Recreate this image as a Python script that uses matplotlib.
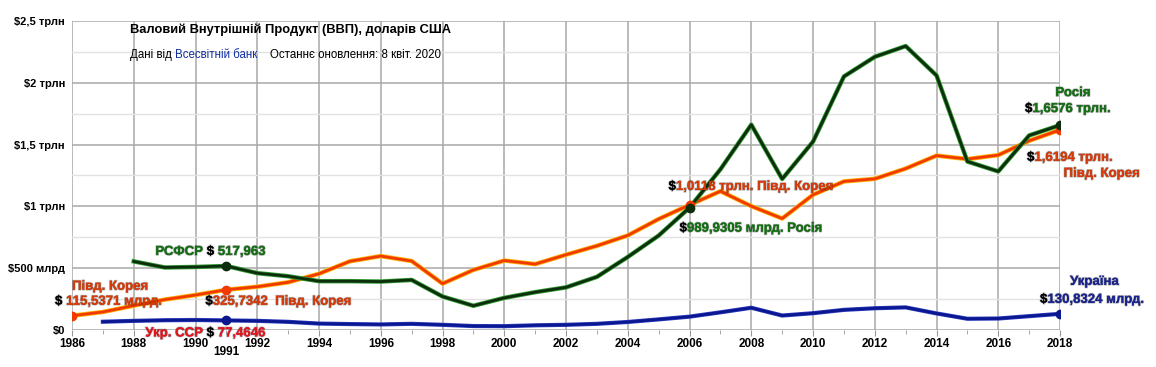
import matplotlib.pyplot as plt
import matplotlib.patheffects as pe
from matplotlib.ticker import MultipleLocator

plt.rcParams['font.family'] = ['Liberation Sans Narrow', 'Liberation Sans', 'DejaVu Sans']

# GDP, billions of US dollars
korea_years = list(range(1986, 2019))
korea = [115.5, 146, 197, 246, 283, 325.7, 350, 386, 455, 556, 598, 558, 375, 486,
         562, 533, 609, 681, 765, 898, 1011.8, 1123, 1002, 902, 1094, 1202, 1223,
         1306, 1411, 1383, 1415, 1531, 1619.4]
russia_years = list(range(1988, 2019))
russia = [555, 506, 510, 518.0, 460, 435, 395, 395, 392, 405, 271, 196, 260, 306,
          345, 430, 591, 764, 989.9, 1300, 1661, 1222, 1524, 2051, 2210, 2297, 2059,
          1363, 1283, 1574, 1657.6]
ukraine_years = list(range(1987, 2019))
ukraine = [67, 74, 79, 81, 77.5, 74, 66, 52, 48, 45, 50, 42, 32, 31, 38, 42, 50,
           65, 86, 108, 143, 180, 117, 136, 163, 176, 183, 134, 91, 93, 112, 130.8]

y_ticks = [0, 500, 1000, 1500, 2000, 2500]
y_labels = ['$0', '$500 млрд', '$1 трлн', '$1,5 трлн', '$2 трлн', '$2,5 трлн']
x_ticks = list(range(1986, 2019, 2))

KOREA = '#f03a00'
RUSSIA = '#0d2e0d'
UKR = '#0a1790'
KOREA_TXT = '#d83a08'
RUSSIA_TXT = '#137013'
UKR_TXT = '#1a2490'

fig = plt.figure(figsize=(11.56, 3.67), dpi=100)
ax = fig.add_axes([0.0623, 0.1008, 0.8547, 0.842])

ax.plot(korea_years, korea, color=KOREA, lw=2.0, zorder=4,
        path_effects=[pe.Stroke(linewidth=3.2, foreground='#ffb000'), pe.Normal()])
ax.plot(russia_years, russia, color=RUSSIA, lw=2.0, zorder=4,
        path_effects=[pe.Stroke(linewidth=3.2, foreground='#2f9a2f'), pe.Normal()])
ax.plot(ukraine_years, ukraine, color=UKR, lw=2.0, zorder=4,
        path_effects=[pe.Stroke(linewidth=3.0, foreground='#3040c0'), pe.Normal()])

# highlighted points
for yr in (1986, 1991, 2006, 2018):
    ax.plot(yr, korea[korea_years.index(yr)], 'o', color=KOREA, ms=6, zorder=5)
for yr in (1991, 2006, 2018):
    ax.plot(yr, russia[russia_years.index(yr)], 'o', color=RUSSIA, ms=6, zorder=5)
for yr in (1991, 2018):
    ax.plot(yr, ukraine[ukraine_years.index(yr)], 'o', color=UKR, ms=6, zorder=5)

ax.set_xlim(1986, 2018)
ax.set_ylim(0, 2500)
ax.set_xticks(x_ticks)
ax.set_xticklabels([str(x) for x in x_ticks])
ax.xaxis.set_minor_locator(MultipleLocator(1))
ax.set_yticks(y_ticks)
ax.set_yticklabels(y_labels)
ax.yaxis.set_minor_locator(MultipleLocator(250))
ax.tick_params(axis='x', which='major', length=4, color='#999999', labelsize=8.5, pad=2)
ax.tick_params(axis='x', which='minor', length=3, color='#999999')
ax.tick_params(axis='y', which='both', length=0, labelsize=8, pad=5)
for lab in ax.get_xticklabels() + ax.get_yticklabels():
    lab.set_fontweight('bold')
ax.grid(True, which='major', color='#a8a8a8', lw=1.1)
ax.grid(True, which='minor', axis='y', color='#e2e2e2', lw=1.0)
for s in ax.spines.values():
    s.set_visible(False)
ax.text(1991, -0.072, '1991', transform=ax.get_xaxis_transform(), ha='center', va='center',
        fontsize=8.5, fontweight='bold')

fig.text(0.1125, 0.918, 'Валовий Внутрішній Продукт (ВВП), доларів США',
         fontsize=9.3, fontweight='bold', va='center')
t = fig.text(0.1125, 0.851, 'Дані від ', fontsize=8.3, va='center')
t = ax.annotate('Всесвітній банк', xy=(1, 0), xycoords=t, va='bottom', color='#1030a0', fontsize=8.3)
ax.annotate('    Останнє оновлення: 8 квіт. 2020', xy=(1, 0), xycoords=t, va='bottom', fontsize=8.3)

glow = [pe.withStroke(linewidth=1.2, foreground='#00000040')]


def label(year, value, dx, dy, parts, ha='left', size=9.5):
    t = ax.annotate(parts[0][0], xy=(year, value), xytext=(dx, dy), textcoords='offset pixels',
                    ha=ha, va='center', color=parts[0][1], fontsize=size, fontweight='bold',
                    annotation_clip=False, zorder=6, path_effects=glow)
    for s, c in parts[1:]:
        t = ax.annotate(s, xy=(1, 0), xycoords=t, va='bottom', ha='left', color=c,
                        fontsize=size, fontweight='bold', zorder=6, path_effects=glow)


k = korea_years.index
r = russia_years.index
u = ukraine_years.index
label(1991, russia[r(1991)], -71, 14, [('РСФСР ', RUSSIA_TXT), ('$', 'black'), (' 517,963', RUSSIA_TXT)])
label(1986, korea[k(1986)], 0, 29, [('Півд. Корея', KOREA_TXT)])
label(1986, korea[k(1986)], -17, 14, [('$', 'black'), (' 115,5371 млрд.', KOREA_TXT)])
label(1991, korea[k(1991)], -21, -12, [('$', 'black'), ('325,7342  Півд. Корея', KOREA_TXT)])
label(1991, ukraine[u(1991)], -81, -13, [('Укр. ССР ', '#e8141e'), ('$', 'black'), (' 77,4646', '#e8141e')])
label(2006, korea[k(2006)], -21, 18, [('$', 'black'), ('1,0118 трлн. Півд. Корея', KOREA_TXT)])
label(2006, russia[r(2006)], -10, -21, [('$', 'black'), ('989,9305 млрд. Росія', RUSSIA_TXT)])
label(2018, russia[r(2018)], 13, 32, [('Росія', RUSSIA_TXT)], ha='center')
label(2018, russia[r(2018)], -35, 16, [('$', 'black'), ('1,6576 трлн.', RUSSIA_TXT)])
label(2018, korea[k(2018)], -33, -28, [('$', 'black'), ('1,6194 трлн.', KOREA_TXT)])
label(2018, korea[k(2018)], 80, -44, [('Півд. Корея', KOREA_TXT)], ha='right')
label(2018, ukraine[u(2018)], 10, 32, [('Україна', UKR_TXT)])
label(2018, ukraine[u(2018)], -20, 14, [('$', 'black'), ('130,8324 млрд.', UKR_TXT)])

fig.savefig('out.png', dpi=100)
